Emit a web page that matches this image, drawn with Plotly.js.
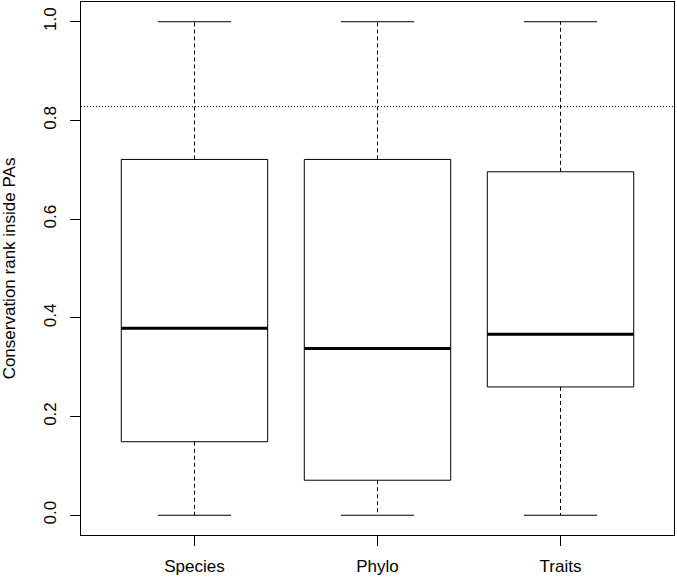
<!DOCTYPE html>
<html>
<head>
<meta charset="utf-8">
<script src="https://cdn.plot.ly/plotly-3.0.1.min.js"></script>
<style>html,body{margin:0;padding:0;background:#fff;}#chart{width:677px;height:578px;}</style>
</head>
<body>
<div id="chart"></div>
<script>
// Data
const categories = ["Species", "Phylo", "Traits"];
const lowerWhisker = [0.0, 0.0, 0.0];
const q1 = [0.149, 0.071, 0.260];
const median = [0.379, 0.338, 0.367];
const q3 = [0.721, 0.721, 0.696];
const upperWhisker = [1.0, 1.0, 1.0];
const referenceLine = 0.828;
const yTicks = [0.0, 0.2, 0.4, 0.6, 0.8, 1.0];

const boxHalf = 0.4, capHalf = 0.2;
const traces = [];
const font = "Liberation Sans, Arial, Helvetica, sans-serif";

categories.forEach((c, i) => {
  const x = i + 1;
  // box
  traces.push({type: "scatter", mode: "lines", hoverinfo: "skip", showlegend: false,
    x: [x - boxHalf, x + boxHalf, x + boxHalf, x - boxHalf, x - boxHalf],
    y: [q1[i], q1[i], q3[i], q3[i], q1[i]],
    line: {color: "#000", width: 1}});
  // whiskers (dashed)
  traces.push({type: "scatter", mode: "lines", hoverinfo: "skip", showlegend: false,
    x: [x, x, null, x, x],
    y: [q3[i], upperWhisker[i], null, q1[i], lowerWhisker[i]],
    line: {color: "#000", width: 1, dash: "4px,3px"}});
  // caps
  traces.push({type: "scatter", mode: "lines", hoverinfo: "skip", showlegend: false,
    x: [x - capHalf, x + capHalf, null, x - capHalf, x + capHalf],
    y: [upperWhisker[i], upperWhisker[i], null, lowerWhisker[i], lowerWhisker[i]],
    line: {color: "#000", width: 1}});
  // median
  traces.push({type: "scatter", mode: "lines", hoverinfo: "skip", showlegend: false,
    x: [x - boxHalf, x + boxHalf],
    y: [median[i], median[i]],
    line: {color: "#000", width: 3}});
});

// dotted reference line across the whole plot
traces.push({type: "scatter", mode: "lines", hoverinfo: "skip", showlegend: false,
  x: [0.38, 3.62], y: [referenceLine, referenceLine],
  line: {color: "#000", width: 1, dash: "1px,2px"}});

const layout = {
  width: 677, height: 578,
  margin: {l: 81, r: 3, t: 2, b: 43},
  paper_bgcolor: "#fff", plot_bgcolor: "#fff",
  font: {family: font, size: 17, color: "#000"},
  showlegend: false,
  xaxis: {
    range: [0.38, 3.62], tickmode: "array", tickvals: [1, 2, 3], ticktext: categories,
    showgrid: false, zeroline: false, showline: true, mirror: true, linecolor: "#000", linewidth: 1,
    ticks: "outside", ticklen: 10, tickcolor: "#000", tickwidth: 1, ticklabelstandoff: 6,
    tickfont: {family: font, size: 17, color: "#000"}
  },
  yaxis: {
    range: [-0.04, 1.04], tickmode: "array", tickvals: yTicks, ticktext: yTicks.map(v => v.toFixed(1)),
    showgrid: false, zeroline: false, showline: true, mirror: true, linecolor: "#000", linewidth: 1,
    ticks: "outside", ticklen: 10, tickcolor: "#000", tickwidth: 1, tickangle: -90, ticklabelstandoff: 7,
    tickfont: {family: font, size: 17, color: "#000"},
    title: {text: "Conservation rank inside PAs", standoff: 26, font: {family: font, size: 17, color: "#000"}}
  }
};

Plotly.newPlot("chart", traces, layout, {displayModeBar: false, staticPlot: true});
</script>
</body>
</html>
